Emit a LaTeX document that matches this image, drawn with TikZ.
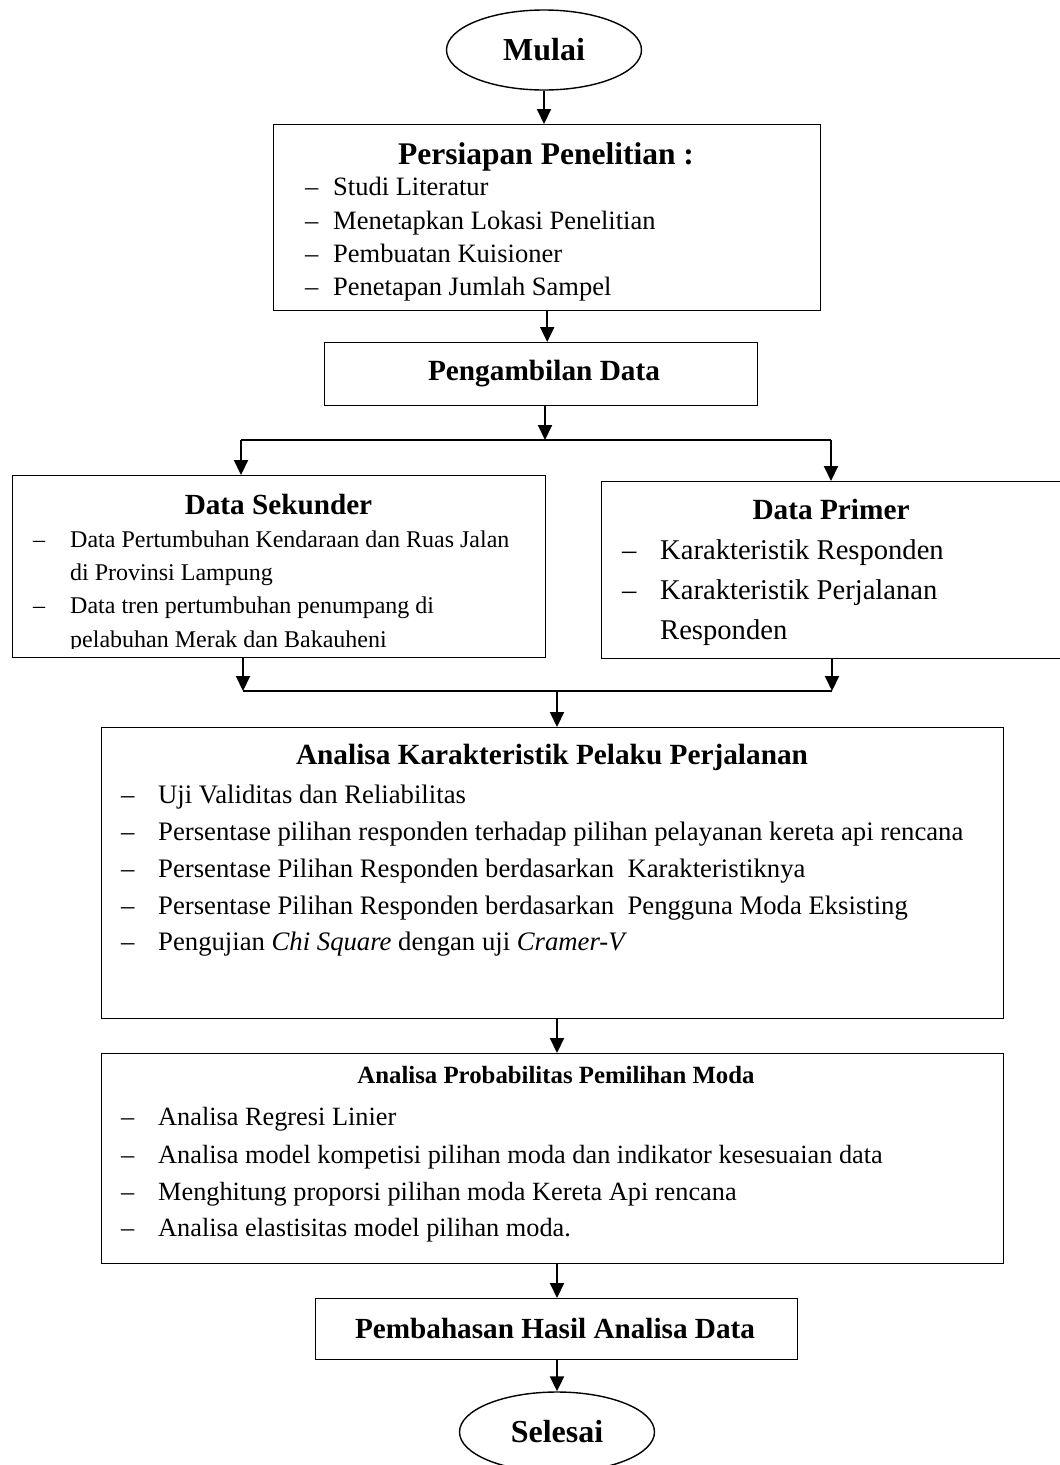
\documentclass[tikz,border=0pt]{standalone}
\usepackage{fontspec}
\setmainfont{Liberation Serif}
\usetikzlibrary{shapes.geometric,arrows.meta}
\newcommand\fs[1]{\fontsize{#1}{#1}\selectfont}
\newcommand\bul[5]{\node[txt] (#1d) at (#2,#4) {–}; \node[txt] (#1) at (#3,#4) {#5};}
\tikzset{
  box/.style={draw, line width=1.4pt, inner sep=0pt, anchor=north west},
  oval/.style={draw, ellipse, line width=1.4pt, minimum width=195pt, minimum height=80pt, inner sep=0pt, font=\bfseries\fs{32}},
  arr/.style={line width=2pt, -{Triangle[length=15pt,width=14pt]}},
  ln/.style={line width=2pt},
  txt/.style={anchor=base west, inner sep=0pt},
  hd/.style={anchor=base, inner sep=0pt}
}
\begin{document}
\begin{tikzpicture}[x=1pt,y=-1pt]
\useasboundingbox (0,0) rectangle (1060,1465);
\fill[white] (0,0) rectangle (1060,1465);
\clip (0,0) rectangle (1060,1465);

% start
\node[oval] (mulai) at (544,50) {Mulai};

% Persiapan
\node[box, minimum width=547pt, minimum height=186pt] (persiapan) at (273,124) {};
\node[hd, font=\bfseries\fs{31.5}] (persiapanH) at (546,164.5) {Persiapan Penelitian :};
\begin{scope}[nodes={font=\fs{26.5}}]
\bul{pa1}{305}{333}{195}{Studi Literatur}
\bul{pa2}{305}{333}{229}{Menetapkan Lokasi Penelitian}
\bul{pa3}{305}{333}{262}{Pembuatan Kuisioner}
\bul{pa4}{305}{333}{295}{Penetapan Jumlah Sampel}
\end{scope}

% Pengambilan
\node[box, minimum width=433pt, minimum height=63pt] (ambil) at (324,342) {};
\node[hd, font=\bfseries\fs{29.3}] (ambilH) at (544,380) {Pengambilan Data};

% Sekunder
\node[box, minimum width=533pt, minimum height=182pt] (sekunder) at (12,475) {};
\node[hd, font=\bfseries\fs{29.2}] (sekunderH) at (278.5,514) {Data Sekunder};
\begin{scope}[nodes={font=\fs{24}}]
\clip (12,475) rectangle (545,648);
\bul{sa1}{33}{70}{547}{Data Pertumbuhan Kendaraan dan Ruas Jalan}
\node[txt] (sa1b) at (70,580) {di Provinsi Lampung};
\bul{sa2}{33}{70}{613}{Data tren pertumbuhan penumpang di}
\node[txt] (sa2b) at (70,647) {pelabuhan Merak dan Bakauheni};
\end{scope}

% Primer
\node[box, minimum width=461pt, minimum height=177pt] (primer) at (601,481) {};
\node[hd, font=\bfseries\fs{29.3}] (primerH) at (831,519) {Data Primer};
\begin{scope}[nodes={font=\fs{28.6}}]
\bul{pr1}{622}{660}{559}{Karakteristik Responden}
\bul{pr2}{622}{660}{599}{Karakteristik Perjalanan}
\node[txt] (pr2b) at (660,639) {Responden};
\end{scope}

% Analisa Karakteristik
\node[box, minimum width=902pt, minimum height=291pt] (analisa) at (101,727) {};
\node[hd, font=\bfseries\fs{29.3}] (analisaH) at (552,764) {Analisa Karakteristik Pelaku Perjalanan};
\begin{scope}[nodes={font=\fs{26.7}}]
\bul{an1}{121}{158}{803}{Uji Validitas dan Reliabilitas}
\bul{an2}{121}{158}{840}{Persentase pilihan responden terhadap pilihan pelayanan kereta api rencana}
\bul{an3}{121}{158}{877}{Persentase Pilihan Responden berdasarkan\ \ Karakteristiknya}
\bul{an4}{121}{158}{914}{Persentase Pilihan Responden berdasarkan\ \ Pengguna Moda Eksisting}
\bul{an5}{121}{158}{950}{Pengujian \textit{Chi Square} dengan uji \textit{Cramer-V}}
\end{scope}

% Analisa Probabilitas
\node[box, minimum width=902pt, minimum height=210pt] (prob) at (101,1053) {};
\node[hd, font=\bfseries\fs{24.8}] (probH) at (556,1083.5) {Analisa Probabilitas Pemilihan Moda};
\begin{scope}[nodes={font=\fs{26.3}}]
\bul{pb1}{121}{158}{1125}{Analisa Regresi Linier}
\bul{pb2}{121}{158}{1163}{Analisa model kompetisi pilihan moda dan indikator kesesuaian data}
\bul{pb3}{121}{158}{1200}{Menghitung proporsi pilihan moda Kereta Api rencana}
\bul{pb4}{121}{158}{1236}{Analisa elastisitas model pilihan moda.}
\end{scope}

% Pembahasan
\node[box, minimum width=482pt, minimum height=61pt] (bahas) at (315,1298) {};
\node[hd, font=\bfseries\fs{29.2}] (bahasH) at (555,1338) {Pembahasan Hasil Analisa Data};

% end
\node[oval] (selesai) at (557,1432) {Selesai};

% connector coordinates
\coordinate (brL) at (241,440);
\coordinate (brR) at (831,440);
\coordinate (brC) at (545,440);
\coordinate (mgL) at (243,691);
\coordinate (mgR) at (832,691);
\coordinate (mgC) at (557,691);

% connectors
\draw[arr] (mulai.south) -- (mulai.south |- persiapan.north);
\draw[arr] (persiapan.south) -- (persiapan.south |- ambil.north);
\draw[arr] (brC |- ambil.south) -- (brC);
\draw[ln] (brL) -- (brR);
\draw[arr] (brL) -- (brL |- sekunder.north);
\draw[arr] (brR) -- (brR |- primer.north);
\draw[arr] (mgL |- sekunder.south) -- (mgL);
\draw[arr] (mgR |- primer.south) -- (mgR);
\draw[ln] (mgL) -- (mgR);
\draw[arr] (mgC) -- (mgC |- analisa.north);
\draw[arr] (mgC |- analisa.south) -- (mgC |- prob.north);
\draw[arr] (mgC |- prob.south) -- (mgC |- bahas.north);
\draw[arr] (selesai.north |- bahas.south) -- (selesai.north);
\end{tikzpicture}
\end{document}
